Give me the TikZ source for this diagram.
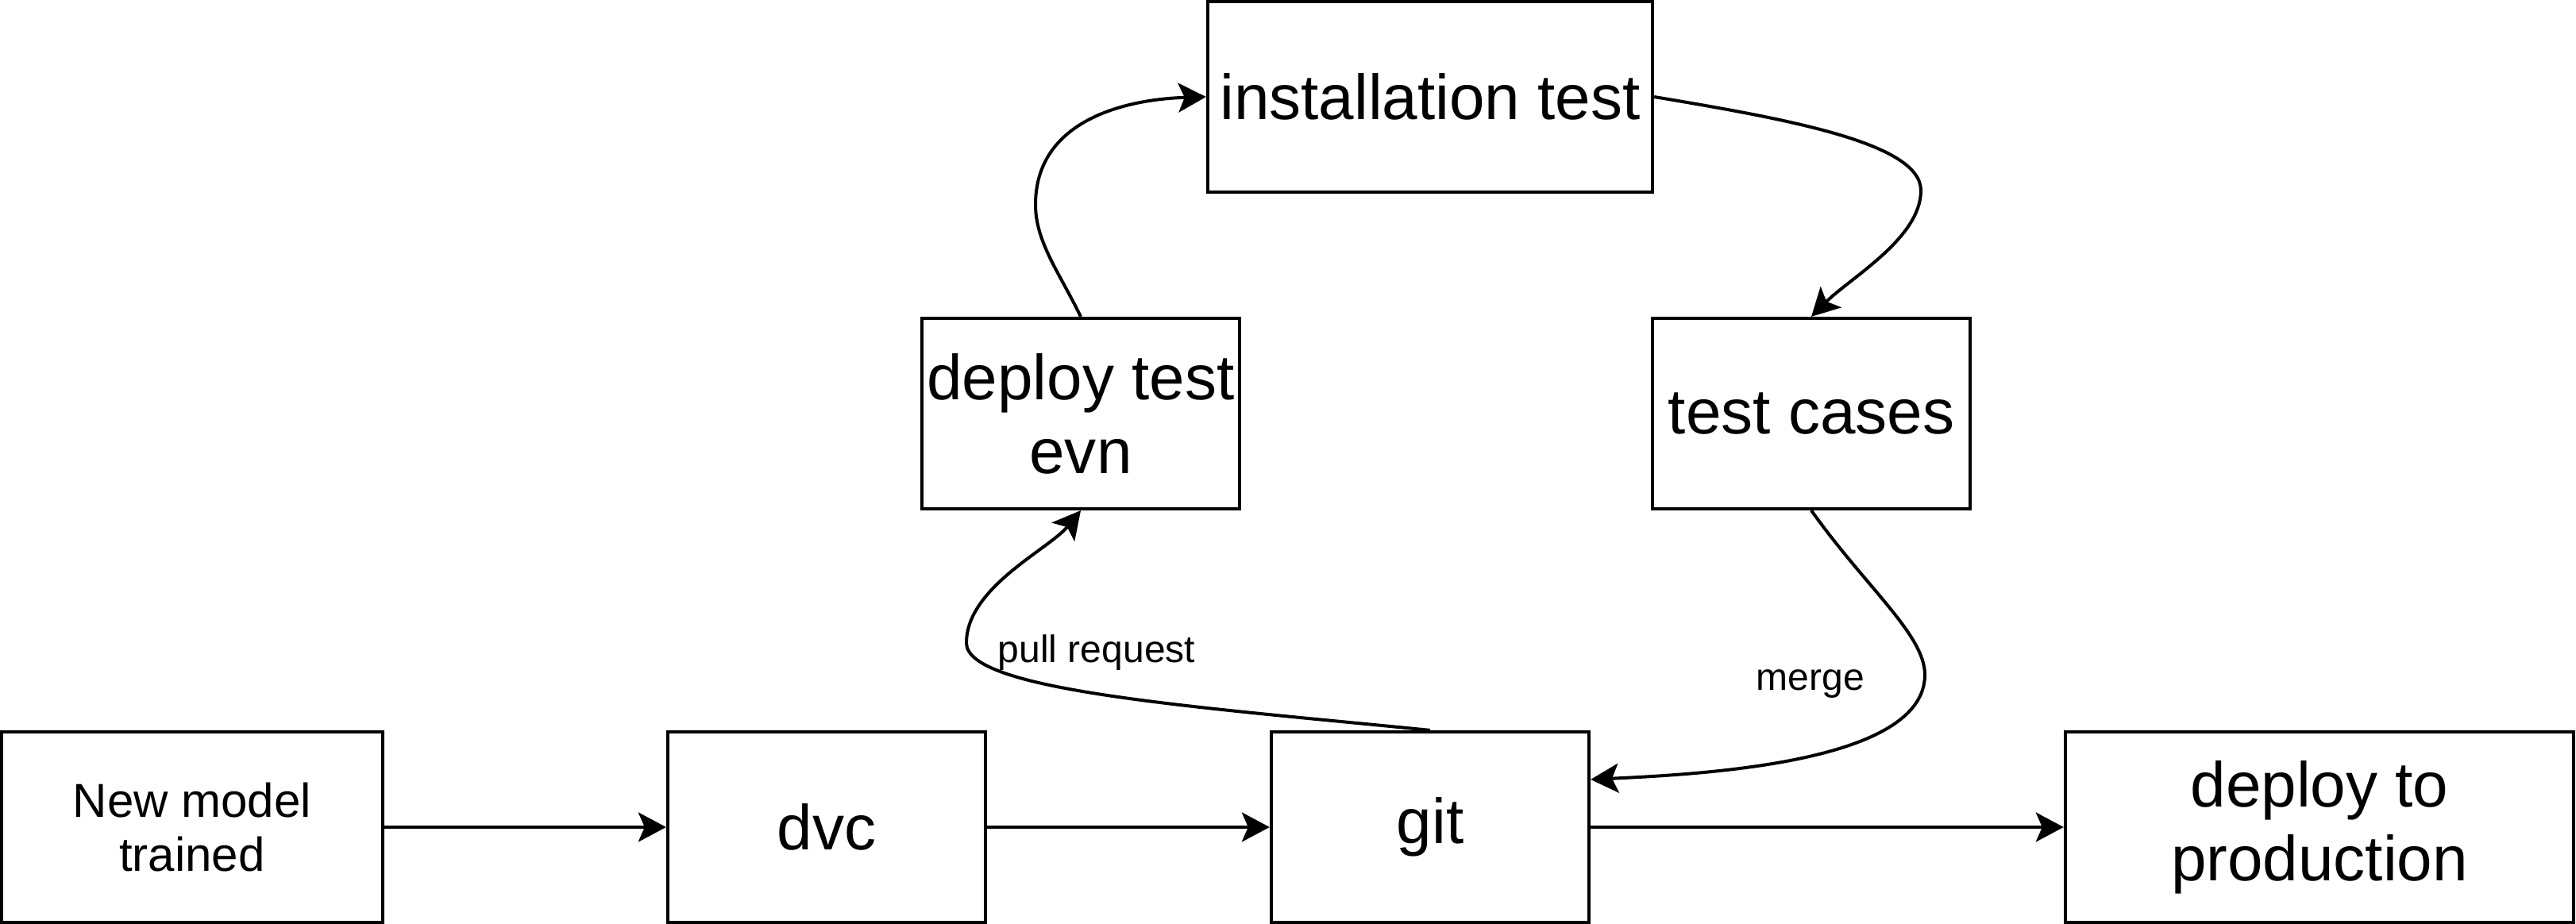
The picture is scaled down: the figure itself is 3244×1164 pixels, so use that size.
\documentclass[tikz,border=0pt]{standalone}
\usepackage{fontspec}
\setmainfont{Liberation Sans}
\usetikzlibrary{arrows.meta}

\tikzset{
  stage/.style={draw, line width=1.14pt, minimum height=2.4cm, inner sep=0pt, align=center, font=\fontsize{22.76}{26.5}\selectfont},
  smallstage/.style={stage, font=\fontsize{17.07}{19.4}\selectfont},
  flow/.style={line width=1.14pt, -{Stealth[length=0.35cm,width=0.37cm,inset=0.08cm]}},
  edgelabel/.style={font=\fontsize{13.66}{16}\selectfont, inner sep=0pt}
}

\begin{document}
\begin{tikzpicture}[x=0.01cm, y=-0.01cm]
\useasboundingbox (0,0) rectangle (3244,1164);

\node[smallstage, minimum width=4.8cm] (newmodel) at (242,1042) {New model\\trained};
\node[stage, minimum width=4cm] (dvc) at (1041,1042) {dvc};
\node[stage, minimum width=4cm] (git) at (1801,1042) {git};
\node[stage, minimum width=6.4cm] (deployprod) at (2921,1042) {deploy to\\production};

\node[stage, minimum width=4cm] (deploytest) at (1361,521) {deploy test\\evn};
\node[stage, minimum width=5.6cm] (insttest) at (1801,122) {installation test};
\node[stage, minimum width=4cm] (testcases) at (2281,521) {test cases};

\coordinate (upbend) at (1304,258);
\coordinate (downbend) at (2419,240);
\coordinate (prbend) at (1217,810);
\coordinate (mergebend) at (2424,850);

\draw[flow] (newmodel) -- (dvc);
\draw[flow] (dvc) -- (git);
\draw[flow] (git) -- (deployprod);

\draw[flow] (deploytest.north) .. controls (1335,345) and (1304,305) .. (upbend) .. controls (1304,150) and (1420,125) .. (insttest.west);
\draw[flow] (insttest.east) .. controls (2250,150) and (2419,180) .. (downbend) .. controls (2419,300) and (2330,350) .. (testcases.north);
\draw[flow] (git.north) .. controls (1500,890) and (1217,870) .. (prbend) .. controls (1217,740) and (1321,692) .. (deploytest.south);
\draw[flow] (testcases.south) .. controls (2350,740) and (2424,800) .. (mergebend) .. controls (2424,960) and (2150,975) .. ([yshift=0.6cm]git.east);

\node[edgelabel] (pulllabel) at (1381,822) {pull request};
\node[edgelabel] (mergelabel) at (2280,862) {merge};
\end{tikzpicture}
\end{document}
